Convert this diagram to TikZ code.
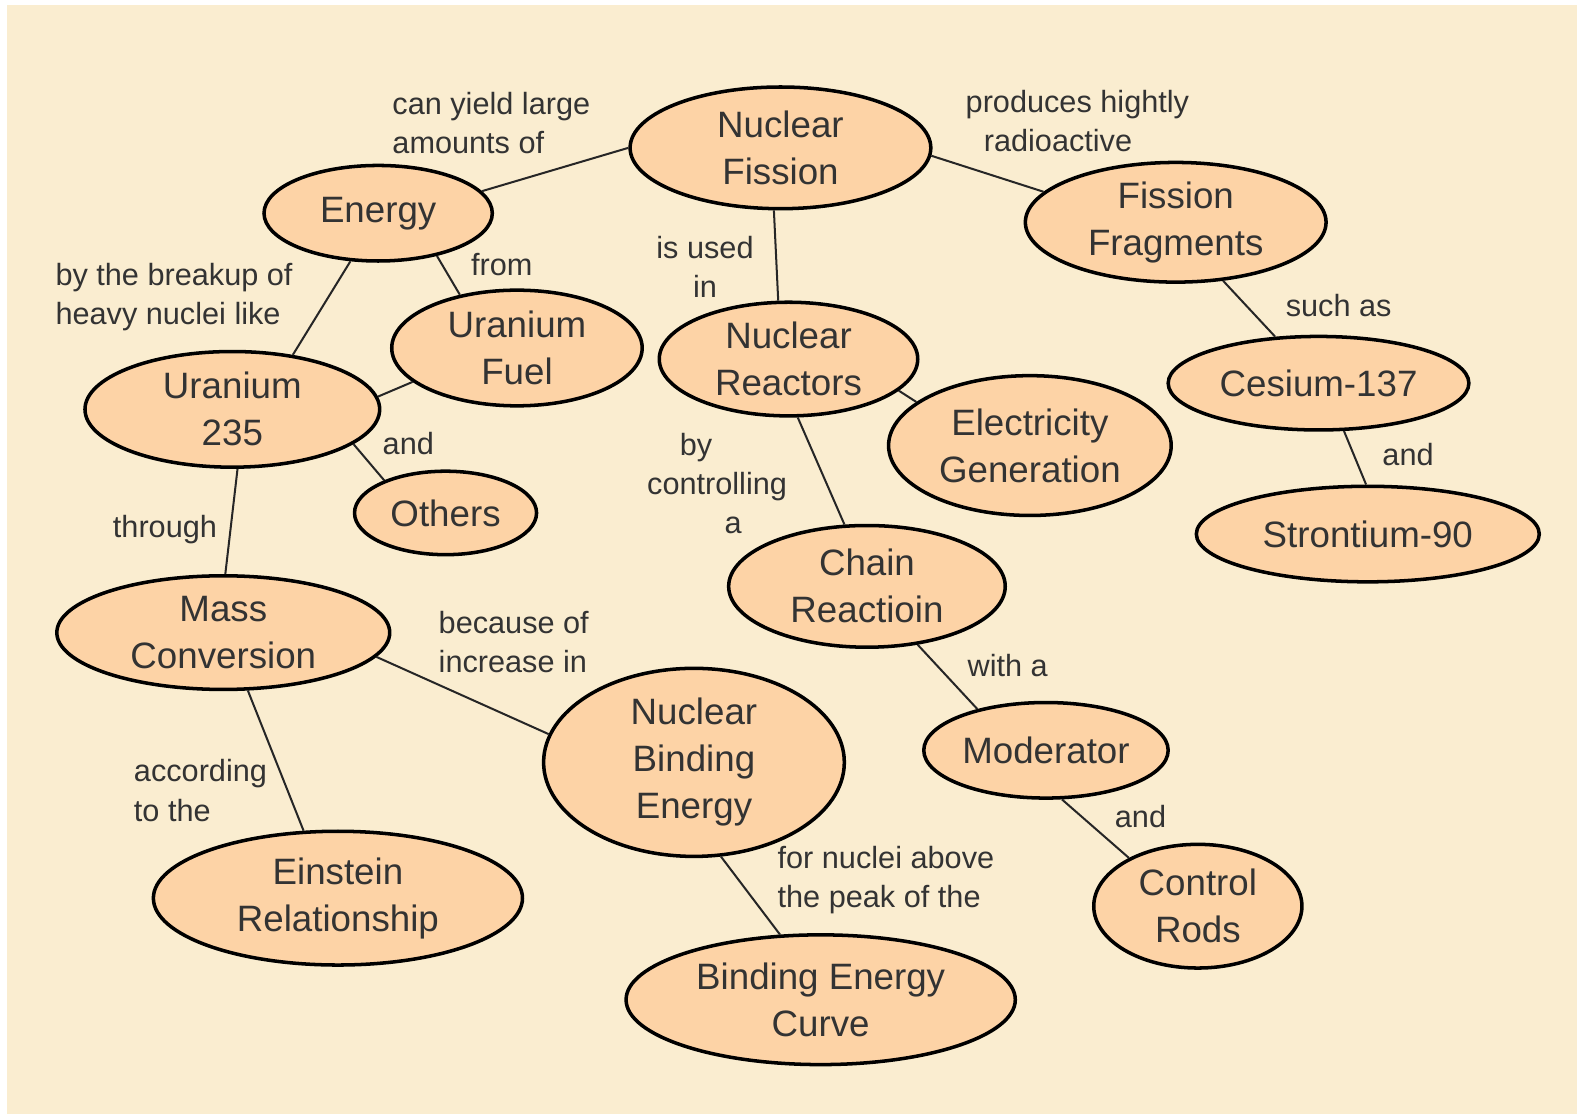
\documentclass[tikz,border=0pt]{standalone}
\usepackage{fontspec}
\setmainfont{Liberation Sans}
\usetikzlibrary{shapes.geometric}
\definecolor{bgcream}{HTML}{FAEDD0}
\definecolor{nodepeach}{HTML}{FDD3A6}
\definecolor{txtgray}{HTML}{333333}
\begin{document}
\begin{tikzpicture}[x=1pt,y=-1pt,
  concept/.style={ellipse, draw=black, line width=3.5pt, fill=nodepeach, inner sep=0pt, align=center, text=txtgray, font=\fontsize{36.5}{46.7}\selectfont},
  link/.style={draw=black!85, line width=2pt},
  lbl/.style={inner sep=0pt, text=txtgray, font=\fontsize{30.5}{39}\selectfont},
]
\useasboundingbox (0,0) rectangle (1568,1112);
\fill[white] (0,0) rectangle (1568,1112);
\fill[bgcream] (7,5) rectangle (1568,1108);

\node[concept, minimum width=299pt, minimum height=121pt] (nf) at (776,147) {Nuclear\\Fission};
\node[concept, minimum width=227pt, minimum height=95pt] (en) at (376,212) {Energy};
\node[concept, minimum width=299pt, minimum height=119pt] (ff) at (1169,221) {Fission\\Fragments};
\node[concept, minimum width=249pt, minimum height=115pt] (uf) at (514,346) {Uranium\\Fuel};
\node[concept, minimum width=257pt, minimum height=113pt] (nr) at (784,357) {Nuclear\\Reactors};
\node[concept, minimum width=293pt, minimum height=115pt] (u235) at (231,407) {Uranium\\235};
\node[concept, minimum width=281pt, minimum height=139pt] (eg) at (1024,443) {Electricity\\Generation};
\node[concept, minimum width=299pt, minimum height=93pt] (cs) at (1311,381) {Cesium-137};
\node[concept, minimum width=181pt, minimum height=83pt] (ot) at (443,510) {Others};
\node[concept, minimum width=341pt, minimum height=95pt] (sr) at (1360,531) {Strontium-90};
\node[concept, minimum width=275pt, minimum height=121pt] (cr) at (862,583) {Chain\\Reactioin};
\node[concept, minimum width=331pt, minimum height=113pt] (mc) at (222,629) {Mass\\Conversion};
\node[concept, minimum width=299pt, minimum height=187pt] (nbe) at (690,758) {Nuclear\\Binding\\Energy};
\node[concept, minimum width=243pt, minimum height=95pt] (mo) at (1040,746) {Moderator};
\node[concept, minimum width=367pt, minimum height=133pt] (er) at (336,893) {Einstein\\Relationship};
\node[concept, minimum width=207pt, minimum height=123pt] (rods) at (1191,901) {Control\\Rods};
\node[concept, minimum width=387pt, minimum height=129pt] (bec) at (816,994) {Binding Energy\\Curve};

\draw[link] (nf.180) -- (en.12);
\draw[link] (nf.-3) -- (ff.167);
\draw[link] (nf.-96) -- (nr.100);
\draw[link] (en.-120) -- (u235.42);
\draw[link] (en.-36) -- (uf.137);
\draw[link] (uf.-162) -- (u235.5);
\draw[link] (u235.-16) -- (ot.152);
\draw[link] (u235.-85) -- (mc.88);
\draw[link] (mc.-9) -- (nbe.169);
\draw[link] (mc.-67) -- (er.117);
\draw[link] (nbe.-74) -- (bec.122);
\draw[link] (nr.-16) -- (eg.159);
\draw[link] (nr.-81) -- (cr.110);
\draw[link] (cr.-49) -- (mo.149);
\draw[link] (mo.-72) -- (rods.145);
\draw[link] (ff.-51) -- (cs.133);
\draw[link] (cs.-62) -- (sr.92);

\node[lbl, align=left, anchor=west] (l1) at (390,122) {can yield large\\amounts of};
\node[lbl, align=left, anchor=west] (l2) at (960,120) {produces hightly\\\hspace*{18pt}radioactive};
\node[lbl, align=center] (l3) at (701,265) {is used\\in};
\node[lbl, align=left, anchor=west] (l4) at (55,295) {by the breakup of\\heavy nuclei like};
\node[lbl] (l5) at (499,263) {from};
\node[lbl] (l6) at (406,441) {and};
\node[lbl] (l7) at (164,527) {through};
\node[lbl, align=center] (l8) at (713,481) {by\rule{42pt}{0pt}\\controlling\\\rule{32pt}{0pt}a};
\node[lbl, align=left, anchor=west] (l9) at (436,638) {because of\\increase in};
\node[lbl, align=left, anchor=west] (l10) at (133,786) {according\\to the};
\node[lbl, align=left, anchor=west] (l11) at (773,875) {for nuclei above\\the peak of the};
\node[lbl] (l12) at (1002,662) {with a};
\node[lbl] (l13) at (1134,812) {and};
\node[lbl] (l14) at (1331,304) {such as};
\node[lbl] (l15) at (1400,452) {and};
\end{tikzpicture}
\end{document}
